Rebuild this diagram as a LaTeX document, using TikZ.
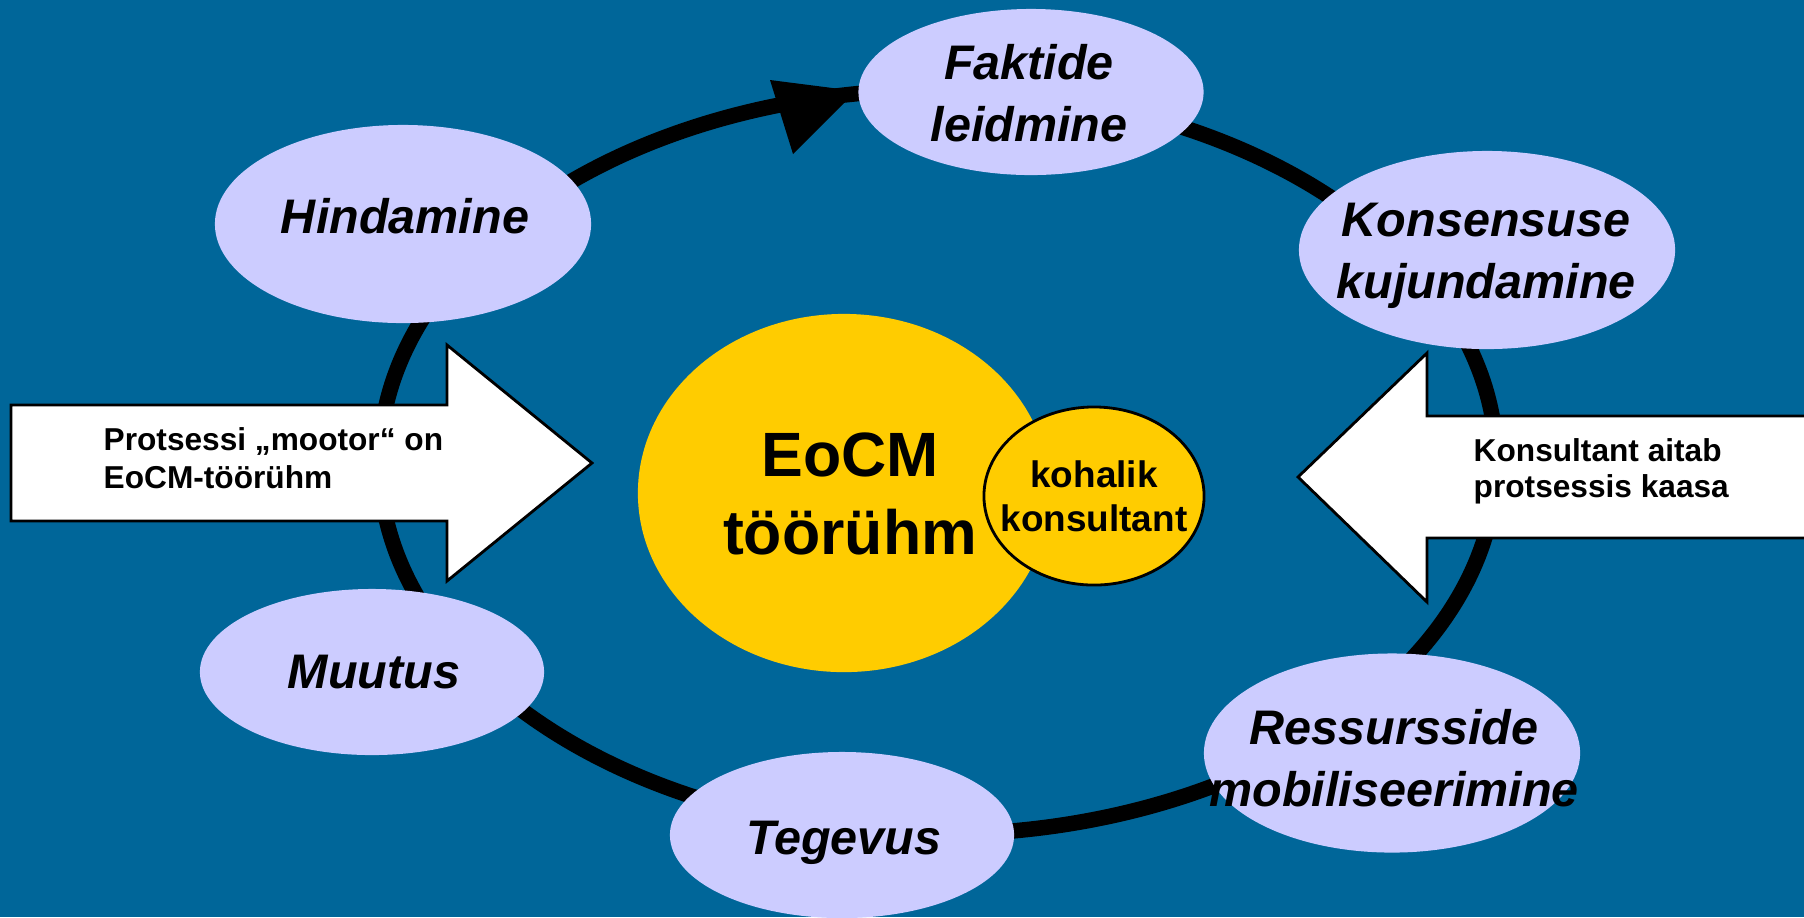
\documentclass[tikz,border=0pt]{standalone}
\usepackage{fontspec}
\setmainfont{Liberation Sans}
\usetikzlibrary{shapes.geometric}
\definecolor{bgblue}{RGB}{0,102,153}
\definecolor{lav}{RGB}{204,204,255}
\definecolor{gold}{RGB}{255,204,0}
\tikzset{
  bubble/.style={ellipse,fill=lav,draw=none,inner sep=0pt},
  btext/.style={font=\fontsize{13.8}{17.6}\selectfont\bfseries\itshape,align=center,inner sep=0pt},
  atext/.style={font=\fontsize{9}{10.8}\selectfont\bfseries,align=left,inner sep=0pt,anchor=west},
  bigarrow/.style={fill=white,draw=black,line width=0.8pt,line join=miter},
}
\begin{document}
\begin{tikzpicture}[x=0.01cm,y=-0.01cm]
\fill[bgblue] (0,0) rectangle (1804,917);
\useasboundingbox (0,0) rectangle (1804,917);
% track
\node[ellipse,draw=black,line width=0.155cm,minimum width=11.16cm,minimum height=7.44cm,inner sep=0pt] (track) at (938,462) {};
\fill[black] (770,80) -- (856,91) -- (793,154) -- cycle;
% bubbles
\node[bubble,minimum width=3.45cm,minimum height=1.66cm] (fakt) at (1031,92) {};
\node[btext] at (1029,93) {Faktide\\leidmine};
\node[bubble,minimum width=3.76cm,minimum height=1.98cm] (hind) at (403,224) {};
\node[btext] at (405,216) {Hindamine};
\node[bubble,minimum width=3.76cm,minimum height=1.98cm] (kons) at (1487,250) {};
\node[btext] at (1486,256) {Konsensuse\\kujundamine};
\node[bubble,minimum width=3.44cm,minimum height=1.66cm] (muut) at (372,672) {};
\node[btext] at (374,672) {Muutus};
\node[bubble,minimum width=3.44cm,minimum height=1.66cm] (tege) at (842,835) {};
\node[btext] at (844,843) {Tegevus};
\node[bubble,minimum width=3.76cm,minimum height=1.99cm] (ress) at (1392,753) {};
\node[btext] at (1394,758) {Ressursside\\mobiliseerimine};
% side arrows
\draw[bigarrow] (11,405) -- (447,405) -- (447,345) -- (592,463) -- (447,581) -- (447,521) -- (11,521) -- cycle;
\node[atext] (ltext) at (103,458) {Protsessi „mootor“ on\\EoCM-töörühm};
\draw[bigarrow] (1812,416) -- (1427,416) -- (1427,353) -- (1298,477) -- (1427,602) -- (1427,538) -- (1812,538) -- cycle;
\node[atext,font=\fontsize{9}{10.3}\selectfont\bfseries] (rtext) at (1473,471) {Konsultant aitab\\protsessis kaasa};
% centre
\node[ellipse,fill=gold,draw=none,minimum width=4.12cm,minimum height=3.58cm,inner sep=0pt] (group) at (844,493) {};
\node[font=\fontsize{17.8}{22}\selectfont\bfseries,align=center,inner sep=0pt] (grouptext) at (850,494) {EoCM\\töörühm};
\node[ellipse,fill=gold,draw=black,line width=0.8pt,minimum width=2.20cm,minimum height=1.78cm,inner sep=0pt] (cons) at (1094,496) {};
\node[font=\fontsize{10.5}{12.5}\selectfont\bfseries,align=center,inner sep=0pt] (constext) at (1094,496) {kohalik\\konsultant};
\end{tikzpicture}
\end{document}
